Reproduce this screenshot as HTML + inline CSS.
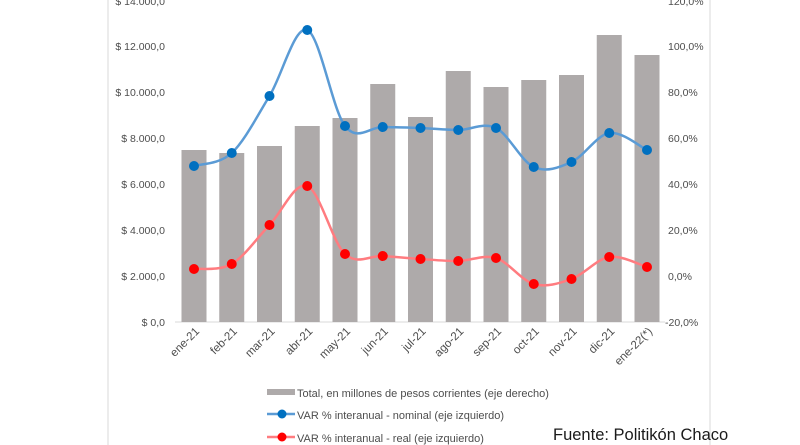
<!DOCTYPE html>
<html><head><meta charset="utf-8"><style>
body{margin:0;background:#fff;width:800px;height:445px;overflow:hidden}
svg{display:block;font-family:"Liberation Sans",sans-serif}
</style></head><body>
<svg id="s" width="800" height="445" viewBox="0 0 800 445">
<line x1="108" y1="0" x2="108" y2="445" stroke="#e6e6e6" stroke-width="1.5"/>
<line x1="710" y1="0" x2="710" y2="445" stroke="#e6e6e6" stroke-width="1.5"/>
<line x1="175" y1="322" x2="665" y2="322" stroke="#d9d9d9" stroke-width="1"/>
<g font-size="10.5" fill="#4d4d4d" text-anchor="end">
<text x="165" y="5">$ 14.000,0</text>
<text x="165" y="50">$ 12.000,0</text>
<text x="165" y="96">$ 10.000,0</text>
<text x="165" y="142">$ 8.000,0</text>
<text x="165" y="188">$ 6.000,0</text>
<text x="165" y="234">$ 4.000,0</text>
<text x="165" y="280">$ 2.000,0</text>
<text x="165" y="326">$ 0,0</text>
</g>
<g font-size="10.5" fill="#4d4d4d" text-anchor="start">
<text x="668" y="5">120,0%</text>
<text x="668" y="50">100,0%</text>
<text x="668" y="96">80,0%</text>
<text x="668" y="142">60,0%</text>
<text x="668" y="188">40,0%</text>
<text x="668" y="234">20,0%</text>
<text x="668" y="280">0,0%</text>
<text x="665" y="326">-20,0%</text>
</g>
<g id="bars" fill="#aeaaaa"></g>
<g id="lines"></g>
<g id="xl" font-size="11.5" fill="#4d4d4d" text-anchor="end"></g>
<rect x="267" y="389" width="28" height="6" fill="#aeaaaa"/>
<text x="297" y="397" font-size="11" fill="#4d4d4d">Total, en millones de pesos corrientes (eje derecho)</text>
<line x1="267" y1="414" x2="295" y2="414" stroke="#5b9bd5" stroke-width="2.5"/>
<circle cx="282" cy="414" r="4.5" fill="#0070c0"/>
<text x="297" y="419" font-size="11" fill="#4d4d4d">VAR % interanual - nominal (eje izquierdo)</text>
<line x1="267" y1="437" x2="295" y2="437" stroke="#ff7c80" stroke-width="2.5"/>
<circle cx="282" cy="437" r="4.5" fill="#ff0000"/>
<text x="297" y="442" font-size="11" fill="#4d4d4d">VAR % interanual - real (eje izquierdo)</text>
<text x="553" y="440" font-size="16.5" fill="#1a1a1a">Fuente: Politikón Chaco</text>
</svg>
<script>
var labels=["ene-21","feb-21","mar-21","abr-21","may-21","jun-21","jul-21","ago-21","sep-21","oct-21","nov-21","dic-21","ene-22(*)"];
var tops=[150,153,146,126,118,84,117,71,87,80,75,35,55];
var blue=[166,153,96,30,126,127,128,130,128,167,162,133,150];
var red=[269,264,225,186,254,256,259,261,258,284,279,257,267];
var NS="http://www.w3.org/2000/svg";
function cx(i){return 194+i*37.75;}
var b=document.getElementById('bars'),l=document.getElementById('lines'),xl=document.getElementById('xl');
function el(t,a,p){var e=document.createElementNS(NS,t);for(var k in a)e.setAttribute(k,a[k]);p.appendChild(e);return e;}
for(var i=0;i<13;i++){
el('rect',{x:cx(i)-12.5,y:tops[i],width:25,height:322-tops[i]},b);
}
function path(ys){
var p=[];for(var i=0;i<13;i++)p.push([cx(i),ys[i]]);
var d="M"+p[0][0]+","+p[0][1];
for(var i=0;i<12;i++){
var p0=p[Math.max(0,i-1)],p1=p[i],p2=p[i+1],p3=p[Math.min(12,i+2)];
var t=1/6;
d+=" C"+(p1[0]+(p2[0]-p0[0])*t)+","+(p1[1]+(p2[1]-p0[1])*t)+" "+(p2[0]-(p3[0]-p1[0])*t)+","+(p2[1]-(p3[1]-p1[1])*t)+" "+p2[0]+","+p2[1];
}
return d;}
el('path',{d:path(blue),fill:'none',stroke:'#5b9bd5','stroke-width':2.5},l);
el('path',{d:path(red),fill:'none',stroke:'#ff7c80','stroke-width':2.5},l);
for(var i=0;i<13;i++){
el('circle',{cx:cx(i),cy:blue[i],r:5,fill:'#0070c0'},l);
el('circle',{cx:cx(i),cy:red[i],r:5,fill:'#ff0000'},l);
var t=el('text',{x:cx(i)+6,y:332,transform:'rotate(-45 '+(cx(i)+6)+' 332)'},xl);
t.textContent=labels[i];
}
</script>
</body></html>
